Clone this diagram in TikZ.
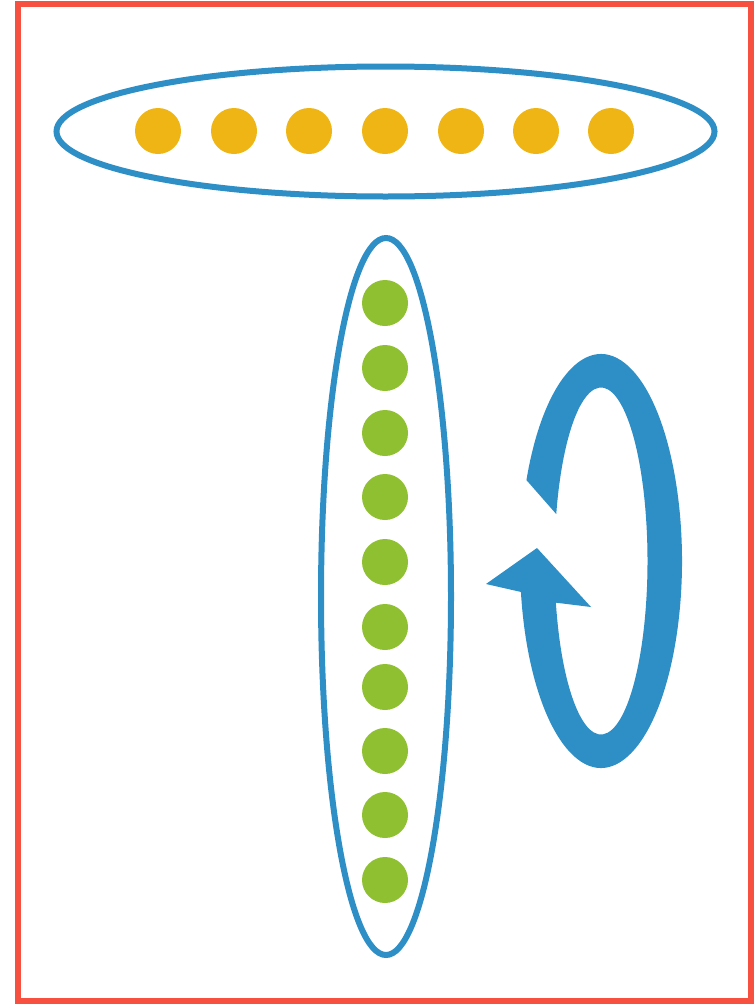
\documentclass[tikz,border=0pt]{standalone}
\usetikzlibrary{calc}
\definecolor{frame}{RGB}{248,80,64}
\definecolor{blueline}{RGB}{46,142,198}
\definecolor{dotorange}{RGB}{239,181,21}
\definecolor{dotgreen}{RGB}{143,192,49}
\begin{document}
\begin{tikzpicture}[x=1pt,y=1pt,
  dot/.style={circle,inner sep=0pt,minimum size=46pt,draw=none},
  odot/.style={dot,fill=dotorange},
  gdot/.style={dot,fill=dotgreen},
  ring/.style={draw=blueline,line width=6pt}]
\useasboundingbox (0,0) rectangle (753,-1004);
% frame
\draw[frame,line width=5.5pt] (18,-4) rectangle (751,-1001);
% top ellipse with orange dots
\draw[ring] (385.5,-131.5) ellipse[x radius=329,y radius=65];
\foreach \x [count=\i] in {158,234,309,385,461,536,611}
  \node[odot] (o\i) at (\x,-131) {};
% vertical ellipse with green dots
\draw[ring] (386,-596.5) ellipse[x radius=65,y radius=358.5];
\foreach \y [count=\i] in {303,368,433,497,562,627,687,751,815,880}
  \node[gdot] (g\i) at (385,-\y) {};
% rotation arrow
\coordinate (c) at (601,-561);
\fill[blueline] ($(c)+(157:81 and 207)$)
  arc[start angle=157,end angle=-171.4,x radius=81,y radius=207]
  -- (486,-584) -- (537,-548) -- (591,-607)
  -- ($(c)+(-166.1:46.5 and 173.5)$)
  arc[start angle=-166.1,end angle=164.3,x radius=46.5,y radius=173.5]
  -- cycle;
\end{tikzpicture}
\end{document}
